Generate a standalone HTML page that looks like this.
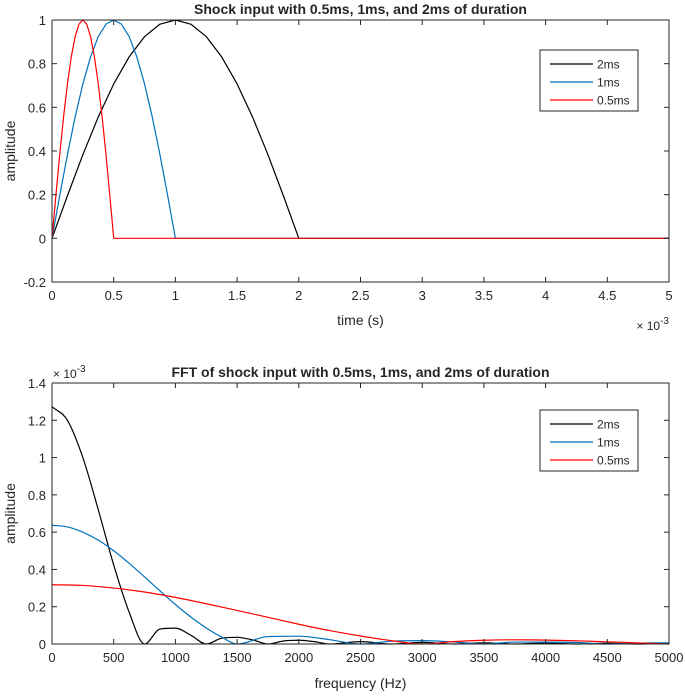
<!DOCTYPE html>
<html><head><meta charset="utf-8"><style>
html,body{margin:0;padding:0;background:#fff;}
svg text{font-family:"Liberation Sans",Arial,sans-serif;fill:#262626;}
</style></head><body>
<svg id="fig" width="685" height="692" viewBox="0 0 685 692"></svg>
<script>
// Top chart data (time in ms, i.e. ×10^-3 s)
const tTicks=[0,0.5,1,1.5,2,2.5,3,3.5,4,4.5,5];
const tTickLabels=["0","0.5","1","1.5","2","2.5","3","3.5","4","4.5","5"];
const ampTicks=[-0.2,0,0.2,0.4,0.6,0.8,1];
const ampTickLabels=["-0.2","0","0.2","0.4","0.6","0.8","1"];
const t2ms=[0,0.125,0.25,0.375,0.5,0.625,0.75,0.875,1,1.125,1.25,1.375,1.5,1.625,1.75,1.875,2,5];
const a2ms=[0,0.195,0.383,0.556,0.707,0.831,0.924,0.981,1,0.981,0.924,0.831,0.707,0.556,0.383,0.195,0,0];
const t1ms=[0,0.0625,0.125,0.1875,0.25,0.3125,0.375,0.4375,0.5,0.5625,0.625,0.6875,0.75,0.8125,0.875,0.9375,1,5];
const a1ms=[0,0.195,0.383,0.556,0.707,0.831,0.924,0.981,1,0.981,0.924,0.831,0.707,0.556,0.383,0.195,0,0];
const t05ms=[0,0.03125,0.0625,0.09375,0.125,0.15625,0.1875,0.21875,0.25,0.28125,0.3125,0.34375,0.375,0.40625,0.4375,0.46875,0.5,5];
const a05ms=[0,0.195,0.383,0.556,0.707,0.831,0.924,0.981,1,0.981,0.924,0.831,0.707,0.556,0.383,0.195,0,0];
// Bottom chart data (frequency Hz, amplitude ×10^-3)
const fTicks=[0,500,1000,1500,2000,2500,3000,3500,4000,4500,5000];
const fTickLabels=["0","500","1000","1500","2000","2500","3000","3500","4000","4500","5000"];
const fAmpTicks=[0,0.2,0.4,0.6,0.8,1,1.2,1.4];
const fAmpTickLabels=["0","0.2","0.4","0.6","0.8","1","1.2","1.4"];
const f2ms=[0,125,250,375,500,625,750,875,1000,1125,1250,1375,1500,1625,1750,1875,2000,2125,2250,2500,2750,3000,3250,3500,3750,4000,4250,4500,4750,5000];
const F2ms=[1.273,1.2,1.0,0.72,0.424,0.171,0,0.08,0.085,0.047,0,0.031,0.036,0.022,0,0.016,0.02,0.0126,0,0.0129,0,0.0089,0,0.0065,0,0.005,0,0.004,0,0.003];
const f1ms=[0,125,250,375,500,625,750,875,1000,1125,1250,1375,1500,1750,2000,2250,2500,2750,3000,3250,3500,3750,4000,4250,4500,4750,5000];
const F1ms=[0.637,0.628,0.6,0.557,0.5,0.433,0.36,0.285,0.212,0.145,0.086,0.037,0,0.04,0.042,0.023,0,0.015,0.018,0.011,0,0.0104,0.0101,0.008,0,0.005,0.0064];
const f05ms=[0,250,500,750,1000,1250,1500,1750,2000,2250,2500,2750,3000,3250,3500,3750,4000,4250,4500,4750,5000];
const F05ms=[0.318,0.314,0.3,0.279,0.25,0.216,0.18,0.143,0.106,0.072,0.043,0.018,0,0.0127,0.02,0.0225,0.021,0.017,0.0117,0.0057,0];
const legendLabels=["2ms","1ms","0.5ms"];
const colors=["#000000","#0072BD","#FF0000"];

const NS="http://www.w3.org/2000/svg";
const svg=document.getElementById('fig');
function mk(tag,attrs,parent){const e=document.createElementNS(NS,tag);for(const k in attrs)e.setAttribute(k,attrs[k]);(parent||svg).appendChild(e);return e;}
function monoPath(xs,ys){
  const n=xs.length;if(n<2)return "";
  const d=[],m=[];
  for(let i=0;i<n-1;i++)d.push((ys[i+1]-ys[i])/(xs[i+1]-xs[i]));
  m[0]=d[0];m[n-1]=d[n-2];
  for(let i=1;i<n-1;i++){m[i]=(d[i-1]*d[i]<=0)?0:(d[i-1]+d[i])/2;}
  for(let i=0;i<n-1;i++){if(d[i]===0){m[i]=0;m[i+1]=0;continue;}
    const a=m[i]/d[i],b=m[i+1]/d[i],s=a*a+b*b;if(s>9){const t=3/Math.sqrt(s);m[i]=t*a*d[i];m[i+1]=t*b*d[i];}}
  let p="M"+xs[0].toFixed(2)+","+ys[0].toFixed(2);
  for(let i=0;i<n-1;i++){const h=xs[i+1]-xs[i];
    p+=" C"+(xs[i]+h/3).toFixed(2)+","+(ys[i]+m[i]*h/3).toFixed(2)+" "+(xs[i+1]-h/3).toFixed(2)+","+(ys[i+1]-m[i+1]*h/3).toFixed(2)+" "+xs[i+1].toFixed(2)+","+ys[i+1].toFixed(2);}
  return p;
}
function drawChart(o){
  const g=mk('g',{});
  
  
  const X=v=>o.x0+(v-o.xmin)/(o.xmax-o.xmin)*(o.x1-o.x0);
  const Y=v=>o.y0-(v-o.ymin)/(o.ymax-o.ymin)*(o.y0-o.y1);
  const box=mk('rect',{x:o.x0,y:o.y1,width:o.x1-o.x0,height:o.y0-o.y1,fill:'#fff',stroke:'none'},g);
  
  
  o.series.forEach((s,i)=>{
    const xs=s.x.map(X),ys=s.y.map(Y);
    const lin=s.x.map((v,j)=>(j?"L":"M")+xs[j].toFixed(2)+","+ys[j].toFixed(2)).join(" ");
    const p=mk('path',{d:o.smooth?monoPath(xs,ys):lin,fill:'none',stroke:colors[i],'stroke-width':1.2,'stroke-linejoin':'round'},g);
    
    
  });
  const fr=mk('path',{d:`M${o.x0},${o.y1} V${o.y0} H${o.x1} V${o.y1} H${o.x0}`,fill:'none',stroke:'#262626','stroke-width':1},g);
  
  
  o.xt.forEach((v,i)=>{const x=X(v);
    mk('line',{x1:x,x2:x,y1:o.y0,y2:o.y0-5,stroke:'#262626'},g);
    mk('line',{x1:x,x2:x,y1:o.y1,y2:o.y1+5,stroke:'#262626'},g);
    const t=mk('text',{x:x,y:o.y0+18,'text-anchor':'middle','font-size':13},g);t.textContent=o.xl[i];
    
    
  });
  o.yt.forEach((v,i)=>{const y=Y(v);
    mk('line',{x1:o.x0,x2:o.x0+5,y1:y,y2:y,stroke:'#262626'},g);
    mk('line',{x1:o.x1,x2:o.x1-5,y1:y,y2:y,stroke:'#262626'},g);
    const t=mk('text',{x:o.x0-6,y:y+5,'text-anchor':'end','font-size':13},g);t.textContent=o.yl[i];
    
    
  });
  const ti=mk('text',{x:(o.x0+o.x1)/2,y:o.titleY,'text-anchor':'middle','font-size':14,'font-weight':'bold',fill:'#000'},g);ti.textContent=o.title;
  
  
  const xl=mk('text',{x:(o.x0+o.x1)/2,y:o.xlabY,'text-anchor':'middle','font-size':14},g);xl.textContent=o.xlabel;
  
  
  const cy=(o.y0+o.y1)/2;
  const yl=mk('text',{x:15,y:cy,'text-anchor':'middle','font-size':14,transform:`rotate(-90 15 ${cy})`},g);yl.textContent="amplitude";
  
  
  const ex=mk('text',{x:o.expX,y:o.expY,'font-size':12,'text-anchor':o.expAnchor},g);
  ex.innerHTML='× 10<tspan dy="-6" font-size="10">-3</tspan>';
  
  
  const lg=mk('g',{},g);
  
  
  mk('rect',{x:540,y:o.legY,width:98,height:61,fill:'#fff',stroke:'#262626','stroke-width':1},lg);
  legendLabels.forEach((l,i)=>{const y=o.legY+14+i*18;
    const ln=mk('line',{x1:550,x2:593,y1:y,y2:y,stroke:colors[i],'stroke-width':1.2},lg);
    
    
    const t=mk('text',{x:597,y:y+4.5,'font-size':12},lg);t.textContent=l;
    
    
  });
}
drawChart({name:'shock-input-chart',x0:52,x1:669,y0:282,y1:20,xmin:0,xmax:5,ymin:-0.2,ymax:1,
  xt:tTicks,xl:tTickLabels,yt:ampTicks,yl:ampTickLabels,smooth:false,
  series:[{x:t2ms,y:a2ms},{x:t1ms,y:a1ms},{x:t05ms,y:a05ms}],
  title:"Shock input with 0.5ms, 1ms, and 2ms of duration",titleY:14,xlabel:"time (s)",xlabY:325,
  expX:669,expY:330,expAnchor:'end',legY:50});
drawChart({name:'fft-chart',x0:52,x1:669,y0:644,y1:383,xmin:0,xmax:5000,ymin:0,ymax:1.4,
  xt:fTicks,xl:fTickLabels,yt:fAmpTicks,yl:fAmpTickLabels,smooth:true,
  series:[{x:f2ms,y:F2ms},{x:f1ms,y:F1ms},{x:f05ms,y:F05ms}],
  title:"FFT of shock input with 0.5ms, 1ms, and 2ms of duration",titleY:377,xlabel:"frequency (Hz)",xlabY:688,
  expX:53,expY:378,expAnchor:'start',legY:410});
</script>
</body></html>
